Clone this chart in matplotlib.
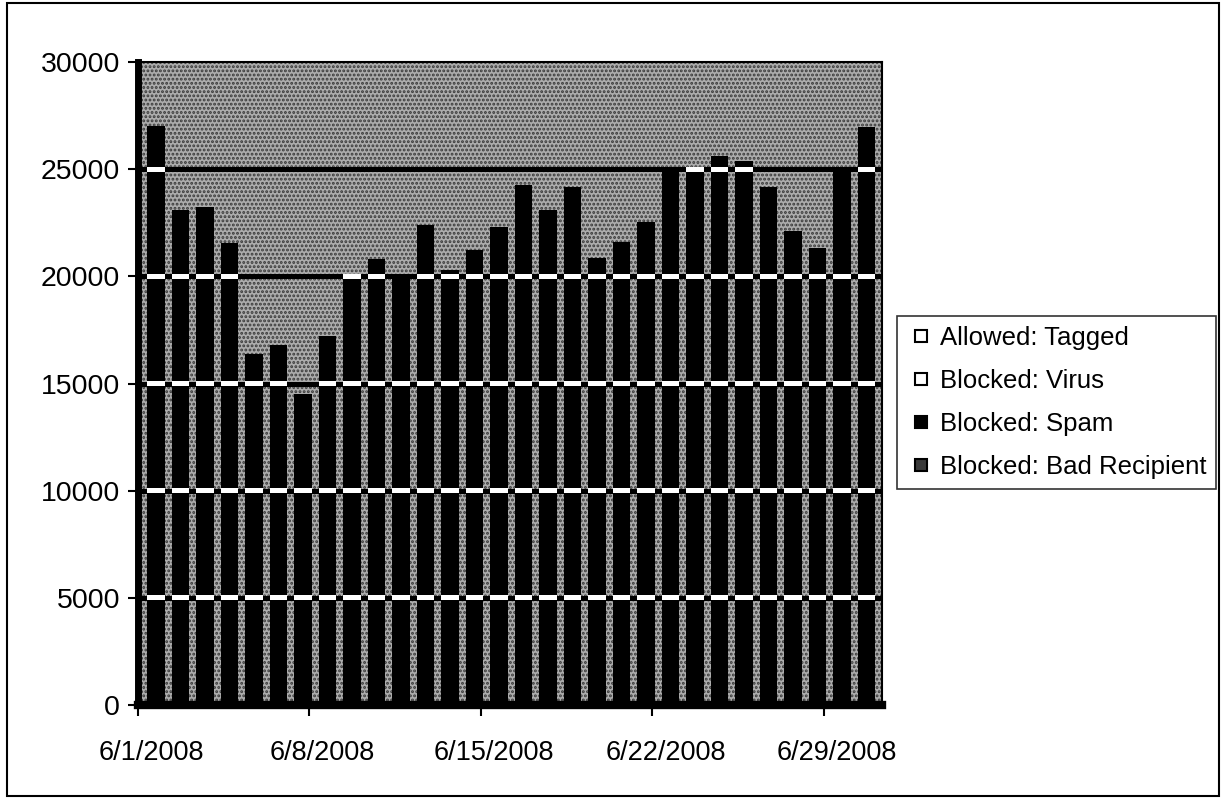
import numpy as np
import pandas as pd
import matplotlib
matplotlib.use("Agg")
import matplotlib.pyplot as plt
import matplotlib.dates as mdates
from matplotlib.patches import Rectangle
from matplotlib.lines import Line2D

# daily message counts, June 2008
days = pd.date_range("2008-06-01", "2008-06-30", freq="D")
blocked_spam = [27000, 23100, 23250, 21550, 16400, 16800, 14500, 17200, 20050, 20800,
                20000, 22400, 20300, 21250, 22300, 24250, 23100, 24150, 20850, 21600,
                22550, 24900, 25100, 25600, 25400, 24150, 22100, 21300, 24950, 26950]
# the other series are too small to see in the picture
blocked_bad_recipient = [0] * 30
blocked_virus = [0] * 30
allowed_tagged = [0] * 30

series_names = ["Allowed: Tagged", "Blocked: Virus", "Blocked: Spam", "Blocked: Bad Recipient"]
y_ticks = [0, 5000, 10000, 15000, 20000, 25000, 30000]
x_tick_days = ["2008-06-01", "2008-06-08", "2008-06-15", "2008-06-22", "2008-06-29"]
x_tick_labels = ["6/1/2008", "6/8/2008", "6/15/2008", "6/22/2008", "6/29/2008"]

plt.rcParams["font.family"] = ["Liberation Sans", "DejaVu Sans"]
plt.rcParams["hatch.color"] = "#3a3a3a"
plt.rcParams["hatch.linewidth"] = 1.4

fig = plt.figure(figsize=(12.23, 7.99), dpi=100)
ax = fig.add_axes([0.1128, 0.1176, 0.6084, 0.8048])

# stippled grey plot area like the scanned original
ax.set_facecolor("none")
ax.add_patch(Rectangle((0, 0), 1, 1, transform=ax.transAxes, facecolor="#acacac",
                       edgecolor="#3a3a3a", hatch="....", linewidth=0, zorder=0))

x = mdates.date2num(days)
bar_offset = 0.73  # bars sit set back from the tick marks (3D look)
bar_w = 0.71
xb = x + bar_offset

bottom = np.zeros(len(x))
for vals, col in [(blocked_bad_recipient, "#303030"), (blocked_spam, "black"),
                  (blocked_virus, "white"), (allowed_tagged, "white")]:
    v = np.array(vals, dtype=float)
    ax.bar(xb, v, width=bar_w, bottom=bottom, color=col, linewidth=0, zorder=2)
    bottom += v

# gridlines: black over background, white break across the bars
for lvl in y_ticks[1:-1]:
    ax.axhline(lvl, color="black", lw=3.6, zorder=1)
    mask = bottom > lvl
    ax.bar(xb[mask], 240, width=bar_w, bottom=lvl - 120, color="white",
           linewidth=0, zorder=3)

ax.set_xlim(x[0], x[0] + 30.37)
ax.set_ylim(0, 30000)
ax.set_yticks(y_ticks)
ax.set_yticklabels([str(t) for t in y_ticks])

# tick marks on the dates, labels sit a little to the right (under the bars)
tick_pos = mdates.date2num(pd.to_datetime(x_tick_days))
ax.set_xticks(tick_pos, minor=True)
ax.set_xticks(tick_pos + 0.53)
ax.set_xticklabels(x_tick_labels)

ax.tick_params(axis="y", labelsize=20.5, length=7, width=1.5, pad=6, direction="out")
ax.tick_params(axis="x", which="major", labelsize=19.5, length=0, pad=25)
ax.tick_params(axis="x", which="minor", length=8, width=1.5, direction="out")

for side in ["top", "right"]:
    ax.spines[side].set_linewidth(1.5)
    ax.spines[side].set_zorder(4)
ax.spines["left"].set_linewidth(5)
ax.spines["bottom"].set_linewidth(6)
for s in ax.spines.values():
    s.set_color("black")

handles = [
    Line2D([], [], linestyle="none", marker="s", markersize=9, markerfacecolor="white",
           markeredgecolor="black", markeredgewidth=1.5),
    Line2D([], [], linestyle="none", marker="s", markersize=9, markerfacecolor="white",
           markeredgecolor="black", markeredgewidth=1.5),
    Line2D([], [], linestyle="none", marker="s", markersize=9, markerfacecolor="black",
           markeredgecolor="black", markeredgewidth=1.5),
    Line2D([], [], linestyle="none", marker="s", markersize=9, markerfacecolor="#3a3a3a",
           markeredgecolor="black", markeredgewidth=1.5),
]
leg = fig.legend(handles, series_names, loc="upper left", bbox_to_anchor=(0.7334, 0.6045),
                 fontsize=18.5, frameon=True, fancybox=False, edgecolor="black",
                 handlelength=1.1, handletextpad=0.2, labelspacing=0.75,
                 borderpad=0.37, borderaxespad=0)
leg.get_frame().set_linewidth(1.2)

# outer border of the chart
fig.add_artist(Rectangle((0.006, 0.004), 0.991, 0.992, transform=fig.transFigure,
                         fill=False, edgecolor="black", linewidth=1.5))

fig.savefig("out.png", dpi=100)
